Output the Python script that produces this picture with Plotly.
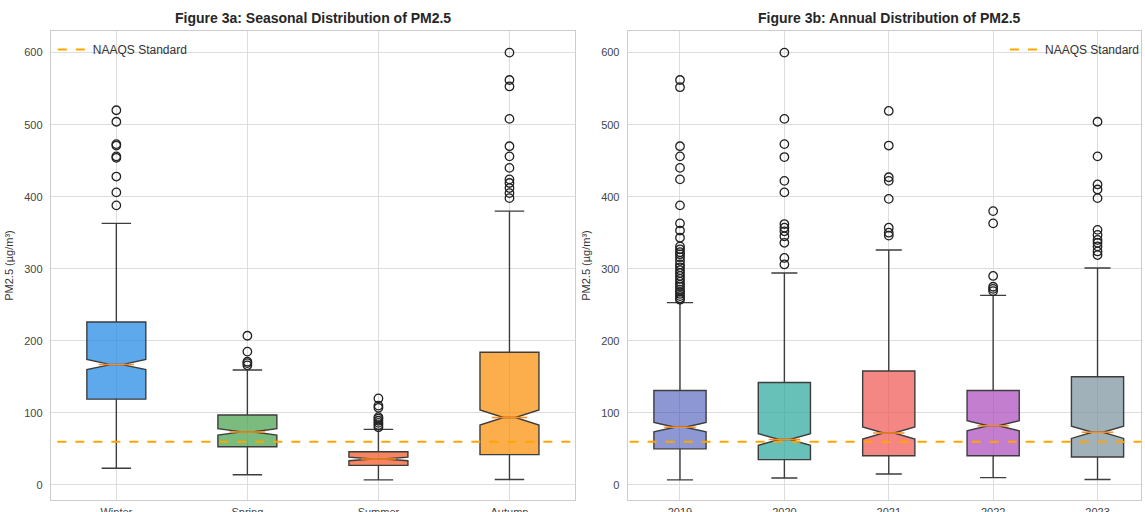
import plotly.graph_objects as go

# ---------------- data ----------------
seasons = ["Winter", "Spring", "Summer", "Autumn"]
season_q1 = [119, 53, 27, 42]
season_median = [167, 73.5, 36, 93.5]
season_q3 = [226, 97, 46, 184]
season_low = [23, 14, 7, 7.5]
season_high = [363, 159.5, 77, 380]
season_notch = [7, 4.5, 2.5, 10.5]
season_outliers = [
    [520, 504, 473, 471, 456, 454, 428, 406, 388],
    [207, 185, 171, 169, 166],
    [120, 110, 107, 94, 92, 89, 86, 83, 80],
    [600, 562, 553, 508, 470, 456, 440, 424, 419, 412, 405, 398],
]
season_colors = ["rgba(30,136,229,0.72)", "rgba(67,160,71,0.7)",
                 "rgba(244,81,30,0.7)", "rgba(251,140,0,0.7)"]

years = ["2019", "2020", "2021", "2022", "2023"]
year_q1 = [50, 35, 40.5, 40.5, 38.6]
year_median = [80, 63, 72, 82, 73]
year_q3 = [131, 142, 158, 131, 150]
year_low = [7, 9.5, 15, 10, 7.5]
year_high = [253, 294, 326, 263, 301]
year_notch = [6.5, 8, 8.5, 7, 8.5]
year_outliers = [
    [562, 552, 470, 456, 440, 424, 388, 363, 353, 343, 331, 327, 323, 320, 316,
     311, 306, 302, 298, 294, 290, 286, 282, 278, 275, 271, 268, 265, 262, 259, 257],
    [600, 508, 473, 455, 422, 406, 362, 357, 352, 345, 336, 315, 306],
    [519, 471, 427, 422, 397, 357, 350, 346],
    [380, 363, 290, 275, 272, 269],
    [504, 456, 417, 410, 398, 354, 347, 340, 336, 331, 324, 319],
]
year_colors = ["rgba(63,81,181,0.6)", "rgba(38,166,154,0.7)", "rgba(239,83,80,0.7)",
               "rgba(171,71,188,0.7)", "rgba(120,144,156,0.7)"]

NAAQS = 60
y_ticks = [0, 100, 200, 300, 400, 500, 600]

# ---------------- figure ----------------
W, H = 1145, 512
fig = go.Figure()

NOTCHW = 0.4
EDGE = "#3d3d3d"
MED = "#ff8c1a"
FONT = "Liberation Sans, Arial, sans-serif"


def add_panel(cats, q1, med, q3, lo, hi, notch, outl, colors, xa, ya, width, legend):
    for i, c in enumerate(cats):
        pos = i + 1
        fig.add_trace(go.Box(
            x=[pos], q1=[q1[i]], median=[med[i]], q3=[q3[i]],
            lowerfence=[lo[i]], upperfence=[hi[i]], notchspan=[notch[i]],
            notched=True, notchwidth=NOTCHW, width=width, whiskerwidth=0.5,
            fillcolor=colors[i], line=dict(color=EDGE, width=1.4),
            boxpoints=False, showlegend=False, xaxis=xa, yaxis=ya, name=c,
        ))
        half = (1 - NOTCHW) * width / 2
        fig.add_trace(go.Scatter(
            x=[pos - half, pos + half], y=[med[i], med[i]], mode="lines",
            line=dict(color=MED, width=1.5), showlegend=False, xaxis=xa, yaxis=ya,
            hoverinfo="skip",
        ))
        fig.add_trace(go.Scatter(
            x=[pos] * len(outl[i]), y=outl[i], mode="markers",
            marker=dict(symbol="circle-open", size=8.5, color="#222",
                        line=dict(width=1.3)),
            showlegend=False, xaxis=xa, yaxis=ya,
        ))
    fig.add_trace(go.Scatter(
        x=[0, len(cats) + 1], y=[NAAQS, NAAQS], mode="lines",
        line=dict(color="#FFA500", width=2, dash="dash"),
        name="NAAQS Standard", showlegend=True, legend=legend,
        xaxis=xa, yaxis=ya,
    ))


add_panel(seasons, season_q1, season_median, season_q3, season_low, season_high,
          season_notch, season_outliers, season_colors, "x", "y", 0.45, "legend")
add_panel(years, year_q1, year_median, year_q3, year_low, year_high,
          year_notch, year_outliers, year_colors, "x2", "y2", 0.5, "legend2")

top_px, bot_px = 31, 500
ydom = [1 - bot_px / H, 1 - top_px / H]
x1dom = [51 / W, 577 / W]
x2dom = [630 / W, 1.0]

axis_common = dict(
    showgrid=True, gridcolor="#dddddd", gridwidth=1, zeroline=False,
    showline=True, linecolor="#cccccc", linewidth=1.2, mirror=True,
    ticks="", tickfont=dict(family=FONT, size=11, color="#444"),
    automargin=False,
)
ytitle = dict(text="PM2.5 (µg/m³)", standoff=8, font=dict(family=FONT, size=11, color="#333"))

fig.update_layout(
    width=W, height=H,
    margin=dict(l=0, r=0, t=0, b=0),
    paper_bgcolor="white", plot_bgcolor="white",
    boxmode="overlay",
    font=dict(family=FONT, size=11, color="#333"),
    xaxis=dict(domain=x1dom, range=[0.5, 4.5], tickvals=[1, 2, 3, 4], ticktext=seasons,
               anchor="y", ticklabelstandoff=2, **axis_common),
    yaxis=dict(domain=ydom, range=[-21, 630], tickvals=y_ticks, anchor="x",
               ticklabelstandoff=5, title=ytitle, **axis_common),
    xaxis2=dict(domain=x2dom, range=[0.5, 0.5 + (1145 - 630) / 104.75],
                tickvals=[1, 2, 3, 4, 5], ticktext=years, anchor="y2",
                ticklabelstandoff=2, **axis_common),
    yaxis2=dict(domain=ydom, range=[-21, 630], tickvals=y_ticks, anchor="x2",
                ticklabelstandoff=5, title=ytitle, **axis_common),
    legend=dict(x=x1dom[0] + 2 / W, y=ydom[1] - 4 / H, xanchor="left", yanchor="top",
                bgcolor="rgba(0,0,0,0)", font=dict(family=FONT, size=12, color="#333")),
    legend2=dict(x=1.0 + 4 / W, y=ydom[1] - 4 / H, xanchor="right", yanchor="top",
                 bgcolor="rgba(0,0,0,0)", font=dict(family=FONT, size=12, color="#333")),
    annotations=[
        dict(text="<b>Figure 3a: Seasonal Distribution of PM2.5</b>", xref="paper", yref="paper",
             x=(x1dom[0] + x1dom[1]) / 2, y=1 - 18 / H, xanchor="center", yanchor="middle",
             showarrow=False, font=dict(family=FONT, size=14, color="#262626")),
        dict(text="<b>Figure 3b: Annual Distribution of PM2.5</b>", xref="paper", yref="paper",
             x=(630 + 1155) / 2 / W, y=1 - 18 / H, xanchor="center", yanchor="middle",
             showarrow=False, font=dict(family=FONT, size=14, color="#262626")),
    ],
)

fig.write_html("out.html", config={"displayModeBar": False},
               post_script="document.body.style.margin='0';document.body.style.overflow='hidden';")
